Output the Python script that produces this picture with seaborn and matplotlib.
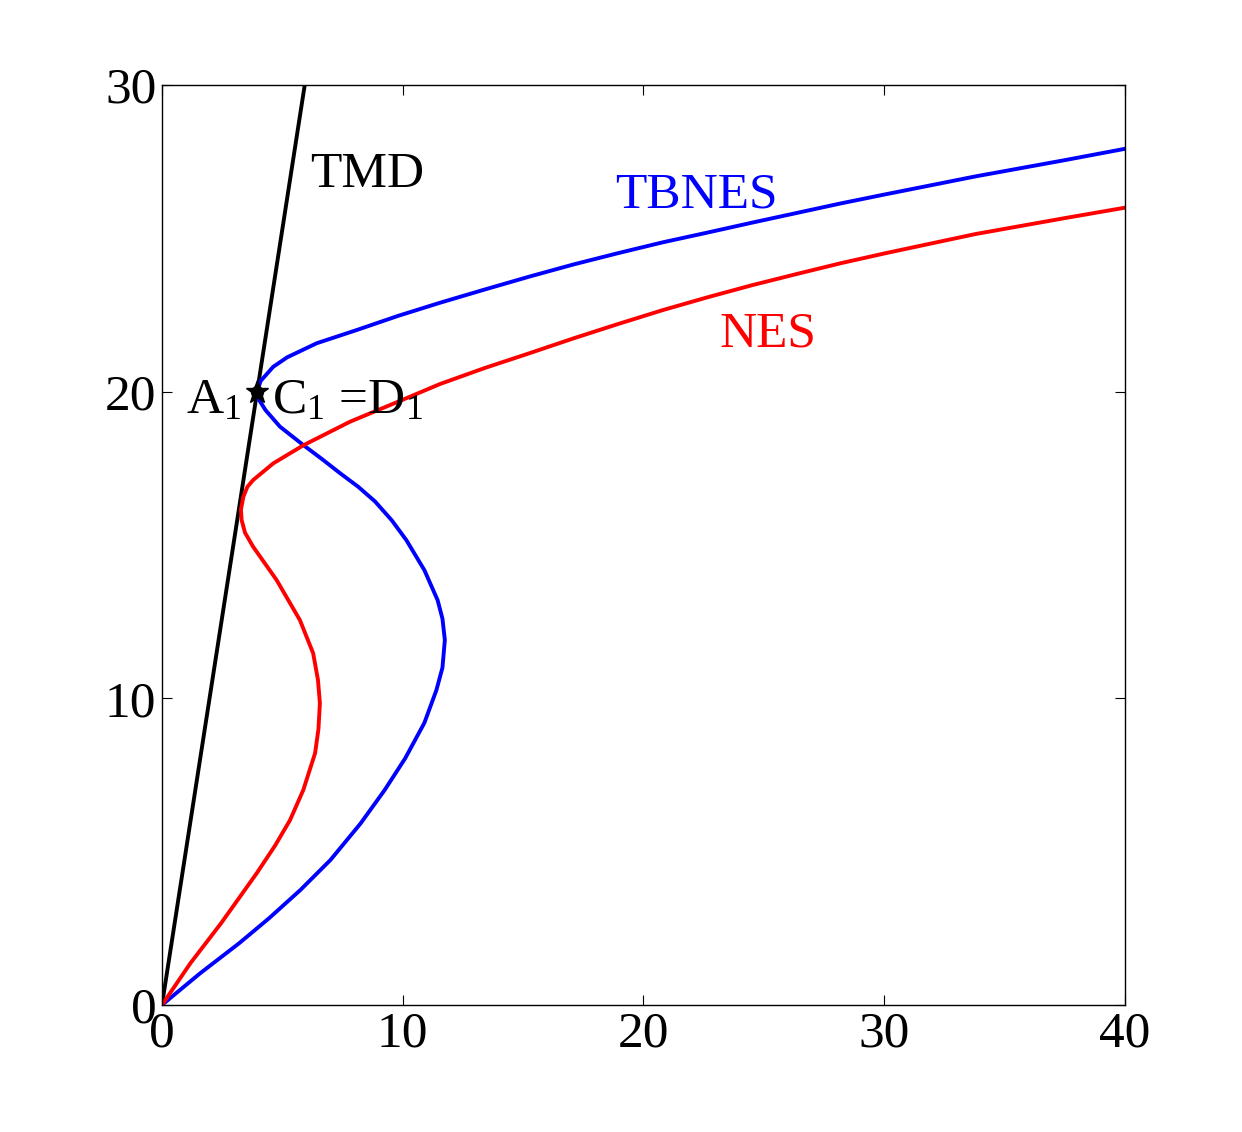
import numpy as np
import pandas as pd
import matplotlib
matplotlib.use("Agg")
import matplotlib.pyplot as plt
import seaborn as sns

# ---- data ----
tmd_x = [0.0, 5.93]
tmd_y = [0.0, 30.0]

tbnes_x = [0.0, 0.75, 1.58, 3.20, 4.45, 5.75, 7.00, 8.25, 9.25, 10.10, 10.90, 11.40,
           11.65, 11.75, 11.65, 11.45, 10.90, 10.15, 9.55, 8.85, 8.15, 7.40, 6.65, 5.87, 4.90,
           4.30, 4.02, 3.95, 4.10, 4.62, 5.20, 6.43, 8.09, 9.80, 11.55, 13.40, 15.25, 17.10, 18.96,
           20.80, 22.67, 24.50, 26.38, 28.20, 30.08, 33.79, 37.50, 40.0]
tbnes_y = [0.0, 0.49, 1.03, 2.01, 2.83, 3.75, 4.73, 5.92, 7.01, 8.04, 9.20, 10.27,
           11.00, 11.90, 12.60, 13.20, 14.18, 15.16, 15.80, 16.42, 16.90, 17.34, 17.80, 18.26, 18.86,
           19.40, 19.75, 20.00, 20.35, 20.81, 21.12, 21.58, 22.01, 22.47, 22.90, 23.33, 23.75, 24.15, 24.52,
           24.87, 25.19, 25.51, 25.83, 26.14, 26.44, 27.02, 27.55, 27.92]

nes_x = [0.0, 1.18, 2.45, 3.93, 4.70, 5.32, 5.87, 6.36, 6.50, 6.56, 6.48, 6.28, 5.73,
         4.76, 3.79, 3.45, 3.31, 3.28, 3.38, 3.55, 3.79, 4.62, 5.87, 7.81, 9.89,
         11.55, 13.40, 15.25, 17.10, 18.96, 20.80, 22.67, 24.50, 26.38, 28.20, 30.08,
         33.79, 37.50, 40.0]
nes_y = [0.0, 1.36, 2.66, 4.29, 5.20, 6.03, 7.01, 8.21, 9.00, 9.84, 10.60, 11.47, 12.55,
         13.86, 14.94, 15.40, 15.81, 16.15, 16.57, 16.90, 17.12, 17.66, 18.25, 19.02, 19.70,
         20.25, 20.77, 21.25, 21.74, 22.21, 22.66, 23.08, 23.47, 23.84, 24.19, 24.52,
         25.14, 25.66, 26.00]

point_x = [3.95]
point_y = [20.0]

x_ticks = [0, 10, 20, 30, 40]
y_ticks = [0, 10, 20, 30]

# ---- style ----
sns.set_style("ticks")
plt.rcParams['font.family'] = ['Liberation Serif', 'DejaVu Serif']
plt.rcParams['mathtext.fontset'] = 'custom'
plt.rcParams['mathtext.rm'] = 'Liberation Serif'
plt.rcParams['mathtext.it'] = 'Liberation Serif:italic'
plt.rcParams['mathtext.bf'] = 'Liberation Serif:bold'
plt.rcParams['lines.solid_joinstyle'] = 'round'

FS = 37
LW = 2.8

fig = plt.figure(figsize=(12.42, 11.32), dpi=100)
ax = fig.add_axes([0.1304, 0.1122, 0.9058 - 0.1304, 0.9249 - 0.1122])

df_tmd = pd.DataFrame({"x": tmd_x, "y": tmd_y})
df_tb = pd.DataFrame({"x": tbnes_x, "y": tbnes_y})
df_nes = pd.DataFrame({"x": nes_x, "y": nes_y})

sns.lineplot(data=df_tmd, x="x", y="y", sort=False, color="black", lw=LW, ax=ax, estimator=None)
sns.lineplot(data=df_tb, x="x", y="y", sort=False, color="#0000ff", lw=LW, ax=ax, estimator=None)
sns.lineplot(data=df_nes, x="x", y="y", sort=False, color="#ff0000", lw=LW, ax=ax, estimator=None)

ax.plot(point_x, point_y, marker='*', color='black', markersize=17, linestyle='none', zorder=5)
ax.plot(point_x, point_y, marker='o', mfc='none', mec='black', mew=1.5, markersize=8,
        linestyle='none', zorder=6)

ax.set_xlim(0, 40)
ax.set_ylim(0, 30)
ax.set_xticks(x_ticks)
ax.set_yticks(y_ticks)
ax.set_xticklabels([str(t) for t in x_ticks])
ax.set_yticklabels([str(t) for t in y_ticks])
ax.set_xlabel("")
ax.set_ylabel("")

ax.tick_params(direction='in', length=7, width=0.8, top=True, right=True,
               labelsize=FS, pad=4, colors='black')
for s in ax.spines.values():
    s.set_visible(True)
    s.set_linewidth(1.0)
    s.set_color('black')

ax.text(8.51, 26.67, "TMD", color="black", fontsize=FS, ha="center", va="baseline")
ax.text(22.18, 26.02, "TBNES", color="#0000ff", fontsize=FS, ha="center", va="baseline")
ax.text(25.17, 21.46, "NES", color="#ff0000", fontsize=FS, ha="center", va="baseline")
ax.text(1.0, 19.3, r"A$_{\mathrm{1}}$", color="black", fontsize=FS, ha="left", va="baseline")
ax.text(4.57, 19.3, r"C$_{\mathrm{1}}$ =D$_{\mathrm{1}}$", color="black", fontsize=FS,
        ha="left", va="baseline")

fig.savefig("out.png", dpi=100, facecolor="white")
